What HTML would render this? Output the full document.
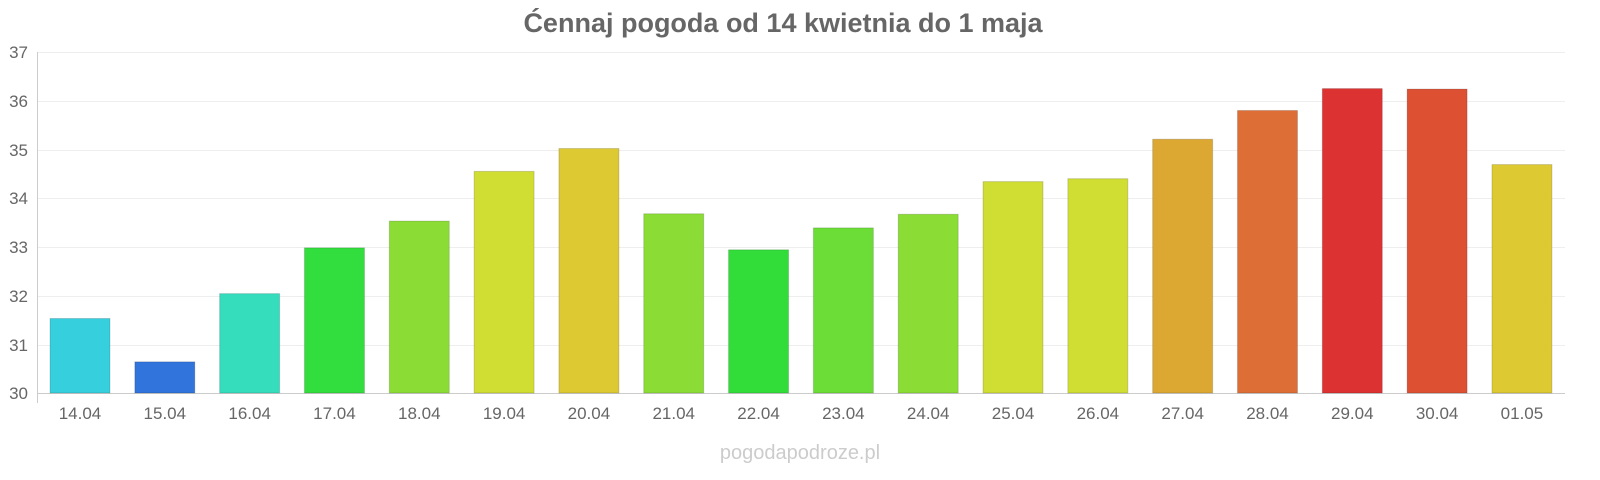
<!DOCTYPE html>
<html><head><meta charset="utf-8"><style>
html,body{margin:0;padding:0;background:#fff;}
svg{display:block;font-family:"Liberation Sans",sans-serif;}
</style></head><body>
<svg width="1600" height="480" viewBox="0 0 1600 480">
<text x="783" y="32" text-anchor="middle" font-size="27" font-weight="bold" fill="#666">Ćennaj pogoda od 14 kwietnia do 1 maja</text>
<g stroke="#eee" stroke-width="1">
<line x1="38" x2="1565" y1="52.5" y2="52.5"/><line x1="38" x2="1565" y1="101.5" y2="101.5"/>
<line x1="38" x2="1565" y1="150.5" y2="150.5"/><line x1="38" x2="1565" y1="198.5" y2="198.5"/>
<line x1="38" x2="1565" y1="247.5" y2="247.5"/><line x1="38" x2="1565" y1="296.5" y2="296.5"/>
<line x1="38" x2="1565" y1="345.5" y2="345.5"/>
</g>
<line x1="37.5" x2="37.5" y1="52" y2="403" stroke="#ccc"/>
<line x1="37" x2="1565" y1="393.5" y2="393.5" stroke="#ccc"/>
<g font-size="17" fill="#666" text-anchor="end">
<text x="28" y="58">37</text><text x="28" y="107">36</text><text x="28" y="156">35</text>
<text x="28" y="204">34</text><text x="28" y="253">33</text><text x="28" y="302">32</text>
<text x="28" y="351">31</text><text x="28" y="399">30</text>
</g>
<g stroke="rgba(0,0,0,0.15)" stroke-width="1">
<rect x="50" y="318.47" width="60" height="74.53" fill="#36cfdd"/>
<rect x="134.82" y="361.83" width="60" height="31.17" fill="#3174db"/>
<rect x="219.64" y="293.63" width="60" height="99.37" fill="#36ddbd"/>
<rect x="304.46" y="247.84" width="60" height="145.16" fill="#32dd3e"/>
<rect x="389.28" y="221.05" width="60" height="171.95" fill="#8bdd36"/>
<rect x="474.1" y="171.37" width="60" height="221.63" fill="#d0dd32"/>
<rect x="558.92" y="148.48" width="60" height="244.52" fill="#ddc932"/>
<rect x="643.74" y="213.75" width="60" height="179.25" fill="#8bdd36"/>
<rect x="728.56" y="249.79" width="60" height="143.21" fill="#32dd3a"/>
<rect x="813.38" y="227.87" width="60" height="165.13" fill="#6bdd36"/>
<rect x="898.2" y="214.23" width="60" height="178.77" fill="#8bdd36"/>
<rect x="983.02" y="181.6" width="60" height="211.4" fill="#d0dd32"/>
<rect x="1067.84" y="178.68" width="60" height="214.32" fill="#d0dd32"/>
<rect x="1152.66" y="139.22" width="60" height="253.78" fill="#dda832"/>
<rect x="1237.48" y="110.48" width="60" height="282.52" fill="#dd6e36"/>
<rect x="1322.3" y="88.56" width="60" height="304.44" fill="#dd3232"/>
<rect x="1407.12" y="89.05" width="60" height="303.95" fill="#dd5032"/>
<rect x="1491.94" y="164.55" width="60" height="228.45" fill="#ddc932"/>
</g>
<g font-size="17" fill="#666" text-anchor="middle">
<text x="80" y="419">14.04</text><text x="164.82" y="419">15.04</text><text x="249.64" y="419">16.04</text>
<text x="334.46" y="419">17.04</text><text x="419.28" y="419">18.04</text><text x="504.1" y="419">19.04</text>
<text x="588.92" y="419">20.04</text><text x="673.74" y="419">21.04</text><text x="758.56" y="419">22.04</text>
<text x="843.38" y="419">23.04</text><text x="928.2" y="419">24.04</text><text x="1013.02" y="419">25.04</text>
<text x="1097.84" y="419">26.04</text><text x="1182.66" y="419">27.04</text><text x="1267.48" y="419">28.04</text>
<text x="1352.3" y="419">29.04</text><text x="1437.12" y="419">30.04</text><text x="1521.94" y="419">01.05</text>
</g>
<text x="800" y="459" text-anchor="middle" font-size="20" fill="#ccc">pogodapodroze.pl</text>
</svg>
</body></html>
